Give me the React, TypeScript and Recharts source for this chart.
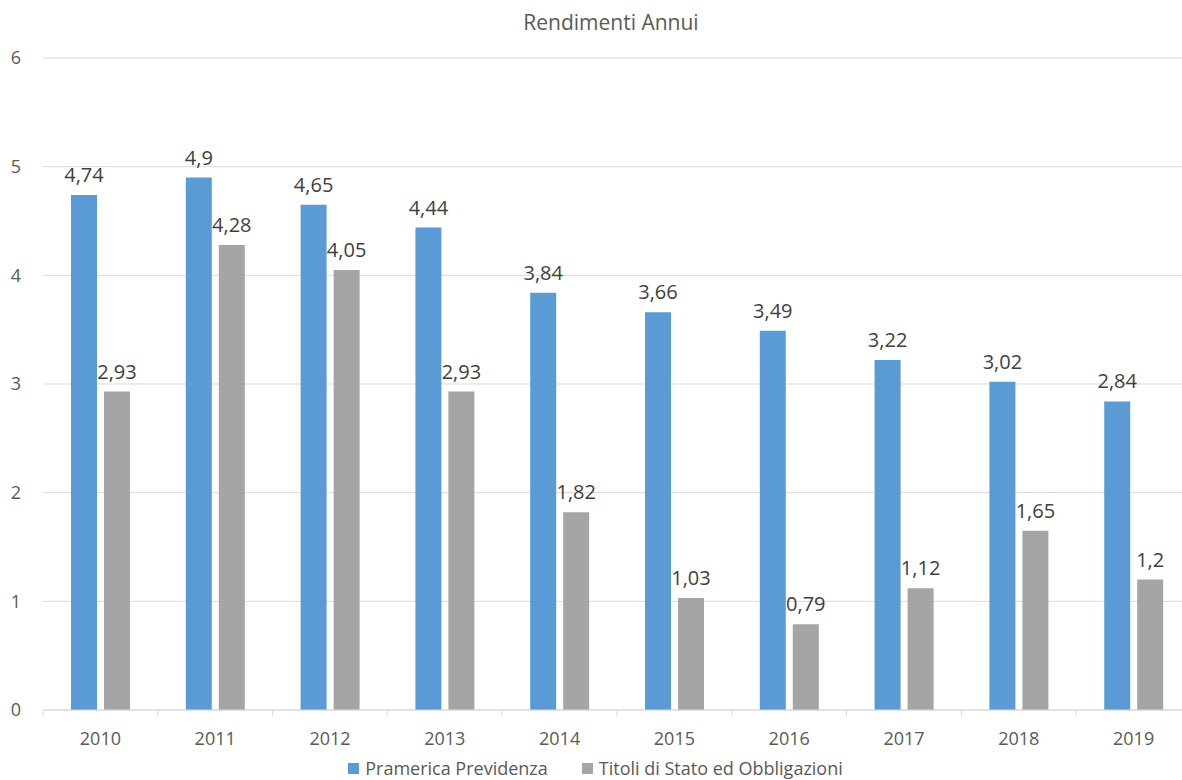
import { BarChart, Bar, XAxis, YAxis, CartesianGrid, Legend, LabelList } from 'recharts';

const YEARS = ['2010', '2011', '2012', '2013', '2014', '2015', '2016', '2017', '2018', '2019'];
const PRAMERICA = [4.74, 4.9, 4.65, 4.44, 3.84, 3.66, 3.49, 3.22, 3.02, 2.84];
const TITOLI = [2.93, 4.28, 4.05, 2.93, 1.82, 1.03, 0.79, 1.12, 1.65, 1.2];
const Y_TICKS = [0, 1, 2, 3, 4, 5, 6];

const SERIES = [
  { key: 'pramerica', name: 'Pramerica Previdenza', color: '#5b9bd5' },
  { key: 'titoli', name: 'Titoli di Stato ed Obbligazioni', color: '#a5a5a5' },
];

const FONT = '"Open Sans", "Noto Sans", sans-serif';
const CHART_W = 1200;
const MARGIN = { top: 58, right: 9, bottom: 10, left: 0 };
const Y_AXIS_W = 43;
const TICK_MARGIN = 22;
// width of one category band, used to put the small tick marks between categories
const BAND = (CHART_W - MARGIN.left - MARGIN.right - Y_AXIS_W) / YEARS.length;

const fmt = (v: any) => String(v).replace('.', ',');

const YearTick = ({ x, y, payload, index }: any) => {
  const axisY = y - TICK_MARGIN;
  const left = x - BAND / 2;
  const right = x + BAND / 2;
  return (
    <g>
      <line x1={left} x2={left} y1={axisY} y2={axisY + 6} stroke="#d9d9d9" />
      {index === YEARS.length - 1 && <line x1={right} x2={right} y1={axisY} y2={axisY + 6} stroke="#d9d9d9" />}
      <text x={x} y={y} dy="0.71em" textAnchor="middle" fill="#595959" fontSize={18} fontFamily={FONT}>
        {payload.value}
      </text>
    </g>
  );
};

const LegendContent = () => (
  <div style={{ display: 'flex', justifyContent: 'center', gap: 34, fontFamily: FONT, fontSize: 18, color: '#595959', lineHeight: '22px' }}>
    {SERIES.map((s) => (
      <div key={s.key} style={{ display: 'flex', alignItems: 'center', gap: 6 }}>
        <span style={{ width: 11, height: 11, background: s.color, display: 'inline-block' }} />
        <span>{s.name}</span>
      </div>
    ))}
  </div>
);

export default function App() {
  const data = YEARS.map((year, i) => ({ year, pramerica: PRAMERICA[i], titoli: TITOLI[i] }));

  return (
    <div style={{ position: 'absolute', left: 0, top: 0, width: 1182, height: 780, overflow: 'hidden', background: '#fff' }}>
      <div
        style={{
          position: 'absolute',
          top: 8,
          left: 0,
          width: 1222,
          textAlign: 'center',
          fontFamily: FONT,
          fontSize: 21,
          color: '#595959',
        }}
      >
        Rendimenti Annui
      </div>
      <BarChart
        width={CHART_W}
        height={790}
        data={data}
        margin={MARGIN}
        barGap={7}
        barSize={26}
        style={{ fontFamily: FONT }}
      >
        <CartesianGrid vertical={false} stroke="#d9d9d9" />
        <XAxis
          dataKey="year"
          height={47}
          axisLine={{ stroke: '#d9d9d9' }}
          tickLine={false}
          tickSize={0}
          tickMargin={TICK_MARGIN}
          tick={<YearTick />}
          interval={0}
        />
        <YAxis
          domain={[0, 6]}
          ticks={Y_TICKS}
          width={Y_AXIS_W}
          axisLine={false}
          tickLine={false}
          tickSize={0}
          tickMargin={22}
          tick={{ fill: '#595959', fontSize: 18 }}
        />
        <Legend verticalAlign="bottom" content={<LegendContent />} wrapperStyle={{ height: 23 }} />
        {SERIES.map((s) => (
          <Bar key={s.key} dataKey={s.key} name={s.name} fill={s.color} isAnimationActive={false}>
            <LabelList
              dataKey={s.key}
              position="top"
              offset={13}
              formatter={fmt}
              style={{ fill: '#404040', fontSize: 20 }}
            />
          </Bar>
        ))}
      </BarChart>
    </div>
  );
}
